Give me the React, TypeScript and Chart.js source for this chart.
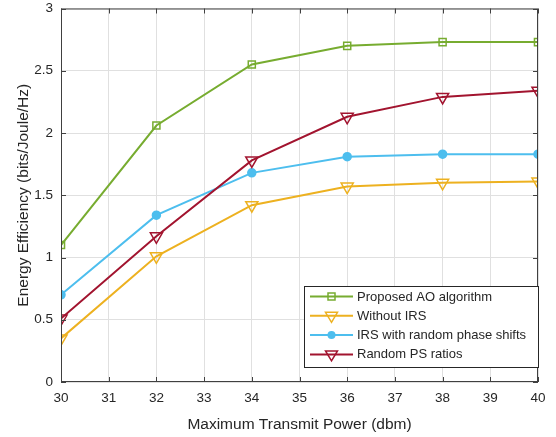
import { useEffect, useRef } from "react";
import { Chart, registerables } from "chart.js";

Chart.register(...registerables);

const xValues = [30, 32, 34, 36, 38, 40];
const proposedAO = [1.1, 2.06, 2.55, 2.7, 2.73, 2.73];
const withoutIRS = [0.35, 1.01, 1.42, 1.57, 1.6, 1.61];
const randomPhase = [0.7, 1.34, 1.68, 1.81, 1.83, 1.83];
const randomPS = [0.51, 1.17, 1.78, 2.13, 2.29, 2.34];
const seriesLabels = [
  "Proposed AO algorithm",
  "Without IRS",
  "IRS with random phase shifts",
  "Random PS ratios",
];
const xTitle = "Maximum Transmit Power (dbm)";
const yTitle = "Energy Efficiency (bits/Joule/Hz)";

const GREEN = "#77AC30";
const YELLOW = "#EDB120";
const BLUE = "#4DBEEE";
const RED = "#A2142F";
const TEXT = "#262626";
const FONT = "'Liberation Sans', Arial, sans-serif";

const toPts = (ys: number[]) => ys.map((y, i) => ({ x: xValues[i], y }));

function drawMarker(ctx: CanvasRenderingContext2D, kind: string, x: number, y: number, color: string) {
  ctx.save();
  ctx.strokeStyle = color;
  ctx.fillStyle = color;
  ctx.lineWidth = 1.5;
  ctx.beginPath();
  if (kind === "square") {
    ctx.rect(x - 3.5, y - 3.5, 7, 7);
    ctx.stroke();
  } else if (kind === "tri") {
    ctx.moveTo(x - 6, y - 3.5);
    ctx.lineTo(x + 6, y - 3.5);
    ctx.lineTo(x, y + 6.5);
    ctx.closePath();
    ctx.stroke();
  } else {
    ctx.arc(x, y, 4, 0, Math.PI * 2);
    ctx.fill();
  }
  ctx.restore();
}

const framePlugin = {
  id: "frame",
  afterDraw(chart: any) {
    const { ctx, chartArea: a, scales } = chart;
    ctx.save();
    ctx.strokeStyle = "#404040";
    ctx.lineWidth = 1;
    ctx.strokeRect(a.left + 0.5, a.top + 0.5, a.right - a.left - 1, a.bottom - a.top - 1);
    const tl = 5;
    ctx.beginPath();
    scales.x.ticks.forEach((t: any) => {
      const px = Math.round(scales.x.getPixelForValue(t.value)) + 0.5;
      ctx.moveTo(px, a.bottom);
      ctx.lineTo(px, a.bottom - tl);
      ctx.moveTo(px, a.top);
      ctx.lineTo(px, a.top + tl);
    });
    scales.y.ticks.forEach((t: any) => {
      const py = Math.round(scales.y.getPixelForValue(t.value)) + 0.5;
      ctx.moveTo(a.left, py);
      ctx.lineTo(a.left + tl, py);
      ctx.moveTo(a.right, py);
      ctx.lineTo(a.right - tl, py);
    });
    ctx.stroke();

    // legend
    const kinds = ["square", "tri", "circle", "tri"];
    const colors = [GREEN, YELLOW, BLUE, RED];
    const bx = 304.5, by = 286.5, bw = 234, bh = 81;
    ctx.fillStyle = "#ffffff";
    ctx.fillRect(bx, by, bw, bh);
    ctx.strokeStyle = TEXT;
    ctx.lineWidth = 1;
    ctx.strokeRect(bx, by, bw, bh);
    ctx.font = `13px ${FONT}`;
    ctx.textBaseline = "middle";
    ctx.textAlign = "left";
    seriesLabels.forEach((lab, i) => {
      const y = 296.5 + i * 19.3;
      ctx.strokeStyle = colors[i];
      ctx.lineWidth = 2;
      ctx.beginPath();
      ctx.moveTo(310, y);
      ctx.lineTo(353, y);
      ctx.stroke();
      drawMarker(ctx, kinds[i], 331.5, y, colors[i]);
      ctx.fillStyle = TEXT;
      ctx.fillText(lab, 357, y + 0.5);
    });
    ctx.restore();
  },
};

export default function App() {
  const ref = useRef<HTMLCanvasElement | null>(null);
  useEffect(() => {
    document.body.style.margin = "0";
    if (!ref.current) return;
    const mk = (label: string, data: number[], color: string, style: string, radius: number, fill: boolean, rotation = 0) => ({
      label,
      data: toPts(data),
      borderColor: color,
      backgroundColor: fill ? color : "rgba(0,0,0,0)",
      borderWidth: 2,
      pointStyle: style,
      pointRadius: radius,
      pointBorderWidth: 1.5,
      pointBorderColor: color,
      pointBackgroundColor: fill ? color : "rgba(0,0,0,0)",
      pointRotation: rotation,
      tension: 0,
    });
    const chart = new Chart(ref.current, {
      type: "line",
      data: {
        datasets: [
          mk(seriesLabels[3], randomPS, RED, "triangle", 7, false, 180),
          mk(seriesLabels[2], randomPhase, BLUE, "circle", 4, true),
          mk(seriesLabels[1], withoutIRS, YELLOW, "triangle", 7, false, 180),
          mk(seriesLabels[0], proposedAO, GREEN, "rect", 5, false),
        ] as any,
      },
      options: {
        animation: false,
        responsive: false,
        layout: { padding: { top: 1, right: 18, left: 0, bottom: 0 } },
        plugins: { legend: { display: false }, tooltip: { enabled: false } },
        scales: {
          x: {
            type: "linear",
            min: 30,
            max: 40,
            ticks: { stepSize: 1, color: TEXT, font: { family: FONT, size: 13.5 }, padding: 8 },
            grid: { color: "#e0e0e0", drawTicks: false },
            border: { display: false },
            title: { display: true, text: xTitle, color: TEXT, font: { family: FONT, size: 15.5 }, padding: { bottom: 3 } },
            afterFit: (s: any) => { s.height = 55; },
          },
          y: {
            min: 0,
            max: 3,
            ticks: {
              stepSize: 0.5,
              color: TEXT,
              font: { family: FONT, size: 13.5 },
              padding: 8,
              callback: (v: any) => String(Number(v)),
            },
            grid: { color: "#e0e0e0", drawTicks: false },
            border: { display: false },
            title: { display: true, text: yTitle, color: TEXT, font: { family: FONT, size: 15.5 }, padding: { top: 14 } },
            afterFit: (s: any) => { s.width = 61; s.paddingTop = 0; s.paddingBottom = 0; },
          },
        },
      } as any,
      plugins: [framePlugin],
    });
    return () => chart.destroy();
  }, []);
  return <canvas ref={ref} width={556} height={437} style={{ display: "block" }} />;
}
